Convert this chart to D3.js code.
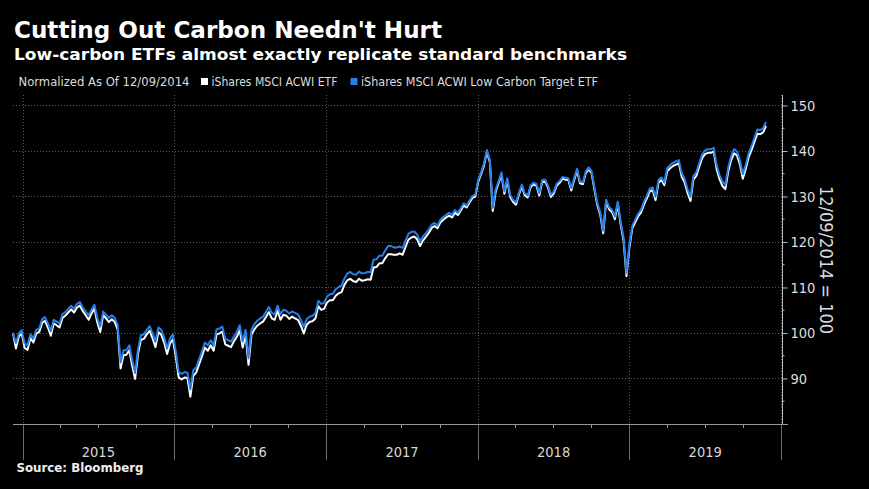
<!DOCTYPE html>
<html lang="en">
<head>
    <meta charset="utf-8">
    <title>Cutting Out Carbon Needn't Hurt</title>
    <script src="https://d3js.org/d3.v7.min.js"></script>
    <style>
        body { margin: 0; background: #000; }
        svg { display: block; }
    </style>
</head>
<body>
<div id="chart"></div>
<script>
    // weekly closes, normalized to 100 on 12/09/2014
    const startDate = new Date(2014, 11, 9);
    const stepDays = 7;

    const lowCarbonValues = [
        100.0, 97.8, 99.9, 100.6, 97.7, 97.3, 99.7, 98.8, 100.7, 101.0,
        103.0, 103.5, 102.1, 100.4, 102.9, 102.5, 102.1, 104.1, 104.6, 105.3,
        106.0, 105.3, 106.4, 106.8, 105.6, 104.7, 103.9, 105.1, 106.2, 103.3,
        101.4, 104.7, 104.0, 103.3, 103.9, 103.3, 101.8, 93.5, 96.2, 96.2,
        97.3, 94.0, 91.2, 96.5, 99.5, 99.7, 100.7, 101.5, 99.9, 98.1,
        101.2, 100.7, 99.0, 96.6, 98.8, 99.7, 95.9, 91.4, 91.0, 91.4,
        91.3, 87.6, 91.8, 92.4, 94.2, 96.0, 97.9, 97.3, 98.4, 97.3,
        100.8, 101.0, 101.4, 98.7, 98.4, 98.1, 99.3, 100.3, 101.7, 98.1,
        100.7, 94.4, 100.7, 101.9, 102.7, 103.2, 103.6, 104.6, 105.7, 104.4,
        104.1, 106.0, 104.1, 105.1, 104.9, 104.3, 104.7, 104.4, 104.1, 102.9,
        101.4, 103.0, 103.6, 103.8, 104.4, 107.1, 106.4, 106.6, 108.0, 108.5,
        108.6, 109.6, 110.1, 110.4, 112.0, 113.1, 113.4, 112.9, 112.8, 113.5,
        113.1, 113.2, 113.4, 113.4, 116.1, 116.2, 117.0, 117.0, 118.1, 119.1,
        119.1, 118.8, 118.8, 119.0, 118.7, 120.3, 121.8, 122.2, 122.3, 121.6,
        120.1, 121.2, 121.9, 122.8, 123.8, 124.2, 123.6, 124.9, 125.5, 126.0,
        126.4, 126.0, 127.0, 126.4, 127.4, 128.5, 128.0, 129.1, 130.1, 130.4,
        133.6, 135.3, 137.3, 140.2, 138.0, 127.5, 131.5, 133.3, 135.3, 131.1,
        134.0, 130.4, 129.3, 128.7, 130.8, 132.6, 130.7, 130.2, 132.4, 133.0,
        132.8, 130.7, 133.6, 133.7, 132.4, 130.4, 131.1, 132.8, 133.4, 134.3,
        134.1, 134.0, 131.8, 134.0, 136.1, 133.3, 133.1, 135.5, 136.4, 135.5,
        131.8, 128.5, 126.4, 122.5, 129.3, 127.7, 127.1, 125.6, 128.9, 124.4,
        120.9, 113.2, 119.4, 123.6, 124.9, 126.2, 127.1, 128.8, 130.2, 131.7,
        132.0, 129.9, 133.6, 134.2, 133.1, 136.2, 136.9, 137.4, 137.7, 138.0,
        135.1, 133.9, 131.6, 129.9, 134.5, 135.3, 137.3, 139.2, 140.1, 140.4,
        140.4, 140.7, 136.9, 134.7, 133.3, 132.6, 136.4, 138.9, 140.4, 139.9,
        138.0, 134.9, 136.9, 139.5, 141.1, 142.9, 144.7, 144.6, 145.0, 146.4
    ];

    const acwiValues = [
        100.0, 96.6, 99.2, 99.9, 96.7, 96.3, 98.9, 97.9, 99.9, 100.2,
        102.2, 102.7, 101.2, 99.4, 102.1, 101.7, 101.2, 103.3, 103.8, 104.5,
        105.2, 104.5, 105.6, 106.0, 104.8, 103.9, 102.9, 104.3, 105.4, 102.3,
        100.2, 103.9, 103.2, 102.4, 103.0, 102.4, 100.8, 92.2, 95.1, 95.2,
        96.2, 92.8, 89.9, 95.4, 98.5, 98.7, 99.7, 100.5, 98.8, 96.9,
        100.2, 99.6, 97.9, 95.4, 97.7, 98.6, 94.7, 90.2, 89.8, 90.2,
        90.1, 86.0, 90.6, 91.3, 93.1, 94.9, 96.8, 96.1, 97.3, 96.1,
        99.7, 99.9, 100.3, 97.5, 97.2, 96.9, 98.2, 99.2, 100.6, 96.8,
        99.6, 93.0, 99.6, 100.8, 101.6, 102.1, 102.5, 103.5, 104.6, 103.2,
        102.9, 104.9, 102.9, 104.0, 103.8, 103.1, 103.6, 103.2, 102.9, 101.6,
        99.9, 101.8, 102.4, 102.6, 103.2, 105.9, 105.1, 105.3, 106.7, 107.2,
        107.2, 108.2, 108.7, 109.0, 110.6, 111.6, 111.9, 111.4, 111.2, 111.9,
        111.5, 111.6, 111.8, 111.7, 114.4, 114.5, 115.3, 115.3, 116.4, 117.3,
        117.3, 117.2, 117.2, 117.5, 117.2, 118.9, 120.5, 121.0, 121.2, 120.6,
        119.1, 120.3, 121.1, 122.0, 123.1, 123.5, 123.0, 124.3, 124.9, 125.4,
        125.8, 125.4, 126.5, 125.9, 126.9, 128.0, 127.6, 128.7, 129.7, 130.0,
        133.2, 134.9, 136.9, 139.8, 137.6, 126.8, 131.0, 132.9, 134.9, 130.6,
        133.6, 129.9, 128.8, 128.2, 130.4, 132.2, 130.3, 129.8, 132.0, 132.6,
        132.4, 130.2, 133.2, 133.3, 132.0, 129.9, 130.7, 132.4, 133.0, 133.9,
        133.7, 133.6, 131.3, 133.6, 135.7, 132.9, 132.7, 135.1, 136.0, 135.1,
        131.4, 128.0, 125.9, 121.9, 128.9, 127.2, 126.6, 125.0, 128.4, 123.8,
        120.3, 112.5, 118.8, 123.0, 124.3, 125.6, 126.5, 128.2, 129.6, 131.1,
        131.4, 129.2, 133.0, 133.6, 132.5, 135.5, 136.2, 136.7, 137.0, 137.3,
        134.3, 133.1, 130.8, 129.0, 133.7, 134.5, 136.5, 138.4, 139.3, 139.6,
        139.6, 139.9, 136.0, 133.8, 132.3, 131.6, 135.5, 138.0, 139.5, 139.0,
        137.1, 133.9, 136.0, 138.6, 140.2, 142.0, 143.8, 143.7, 144.1, 145.5
    ];

    const yearLabels = ["2015", "2016", "2017", "2018", "2019"];
    const yTicks = [90, 100, 110, 120, 130, 140, 150];
    const legendNames = ["iShares MSCI ACWI ETF", "iShares MSCI ACWI Low Carbon Target ETF"];

    const width = 869, height = 489;
    const white = "#ffffff", blue = "#2680eb";
    const condensed = "'DejaVu Sans Condensed', 'DejaVu Sans', sans-serif";
    const boldFont = "'DejaVu Sans', sans-serif";

    const svg = d3.select("#chart").append("svg")
        .attr("width", width)
        .attr("height", height)
        .style("background", "#000");

    // squeeze a text element to the width it has in the reference
    function fit(sel, w) {
        sel.attr("textLength", w).attr("lengthAdjust", "spacingAndGlyphs");
        return sel;
    }

    // headline block
    fit(svg.append("text").attr("x", 14).attr("y", 38)
        .attr("fill", "#fff").attr("font-family", boldFont).attr("font-weight", "bold")
        .attr("font-size", 23).text("Cutting Out Carbon Needn't Hurt"), 428);
    fit(svg.append("text").attr("x", 14).attr("y", 60)
        .attr("fill", "#fff").attr("font-family", boldFont).attr("font-weight", "bold")
        .attr("font-size", 16).text("Low-carbon ETFs almost exactly replicate standard benchmarks"), 613);

    // legend
    const legend = svg.append("g").attr("font-family", condensed).attr("font-size", 12.5).attr("fill", "#ddd");
    fit(legend.append("text").attr("x", 18.5).attr("y", 86).text("Normalized As Of 12/09/2014"), 171);
    legend.append("rect").attr("x", 201).attr("y", 78).attr("width", 7).attr("height", 7).attr("fill", white);
    fit(legend.append("text").attr("x", 211.5).attr("y", 86).text(legendNames[0]), 126);
    legend.append("rect").attr("x", 350.5).attr("y", 78).attr("width", 7).attr("height", 7).attr("fill", blue);
    fit(legend.append("text").attr("x", 361).attr("y", 86).text(legendNames[1]), 237);

    // scales
    const x = d3.scaleTime()
        .domain([startDate, new Date(2020, 0, 1)])
        .range([13, 781]);
    const y = d3.scaleLinear()
        .domain([80, 152.3])
        .range([424, 95]);

    const yearStarts = d3.range(2015, 2021).map(yr => new Date(yr, 0, 1));

    // dotted grid
    const grid = svg.append("g")
        .attr("stroke", "#5a5a5a")
        .attr("stroke-width", 1)
        .attr("stroke-dasharray", "1,2");
    grid.selectAll("line.h").data(yTicks).join("line").attr("class", "h")
        .attr("x1", 13).attr("x2", 782)
        .attr("y1", d => Math.round(y(d)) + 0.5).attr("y2", d => Math.round(y(d)) + 0.5);
    grid.selectAll("line.v").data(yearStarts).join("line").attr("class", "v")
        .attr("x1", d => Math.round(x(d)) + 0.5).attr("x2", d => Math.round(x(d)) + 0.5)
        .attr("y1", 95).attr("y2", 424);

    // series
    const dateAt = i => d3.timeDay.offset(startDate, i * stepDays);
    const line = d3.line()
        .x((d, i) => x(dateAt(i)))
        .y(d => y(d));

    svg.append("g")
        .attr("fill", "none")
        .attr("stroke-width", 2)
        .attr("stroke-linejoin", "round")
        .selectAll("path")
        .data([{ values: acwiValues, color: white }, { values: lowCarbonValues, color: blue }])
        .join("path")
        .attr("stroke", d => d.color)
        .attr("d", d => line(d.values));

    // x axis: base line, quarter ticks, year separators and labels
    const xAxis = svg.append("g").attr("stroke", "#9a9a9a");
    xAxis.append("line").attr("x1", 13).attr("x2", 788).attr("y1", 424.5).attr("y2", 424.5);
    const quarters = d3.timeMonth.every(3).range(new Date(2015, 0, 1), new Date(2020, 0, 1))
        .filter(d => d.getMonth() !== 0);
    xAxis.selectAll("line.q").data(quarters).join("line").attr("class", "q")
        .attr("x1", d => Math.round(x(d)) + 0.5).attr("x2", d => Math.round(x(d)) + 0.5)
        .attr("y1", 425).attr("y2", 428);
    xAxis.selectAll("line.sep").data(yearStarts).join("line").attr("class", "sep")
        .attr("stroke", "#6a6a6a")
        .attr("x1", d => Math.round(x(d)) + 0.5).attr("x2", d => Math.round(x(d)) + 0.5)
        .attr("y1", 425).attr("y2", 460);

    svg.append("g")
        .attr("font-family", condensed).attr("font-size", 14.5).attr("fill", "#d8d8d8")
        .attr("text-anchor", "middle")
        .selectAll("text").data(yearLabels).join("text")
        .attr("x", (d, i) => (x(yearStarts[i]) + x(yearStarts[i + 1])) / 2)
        .attr("y", 457)
        .text(d => d);

    // y axis on the right
    const yAxis = svg.append("g")
        .attr("transform", "translate(782.5,0)")
        .call(d3.axisRight(y).tickValues(yTicks).tickSize(5).tickPadding(3))
        .call(g => g.select(".domain").attr("stroke", "#bbb").attr("d", "M0,95V424"))
        .call(g => g.selectAll(".tick line").attr("stroke", "#bbb"))
        .call(g => g.selectAll(".tick text")
            .attr("fill", "#ddd").attr("font-family", condensed).attr("font-size", 14.5));
    yAxis.selectAll("line.minor").data(d3.range(85, 150, 10)).join("line").attr("class", "minor")
        .attr("stroke", "#bbb")
        .attr("x1", 0).attr("x2", 2)
        .attr("y1", d => y(d)).attr("y2", d => y(d));

    svg.append("text")
        .attr("transform", "translate(820,260) rotate(90)")
        .attr("text-anchor", "middle")
        .attr("font-family", condensed).attr("font-size", 18).attr("fill", "#ddd")
        .text("12/09/2014 = 100");

    // footer
    fit(svg.append("text").attr("x", 16.5).attr("y", 472)
        .attr("fill", "#eee").attr("font-family", boldFont).attr("font-weight", "bold")
        .attr("font-size", 11.8).text("Source: Bloomberg"), 127);
</script>
</body>
</html>
